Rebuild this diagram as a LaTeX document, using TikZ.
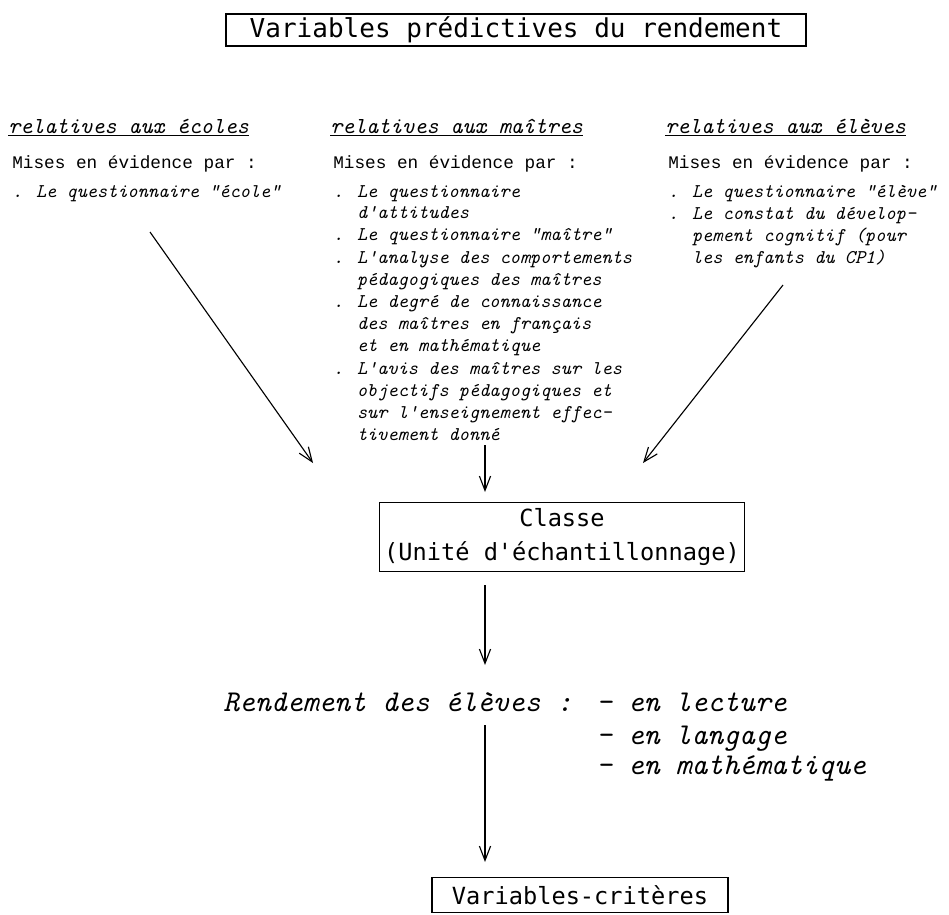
\documentclass[tikz,border=0pt]{standalone}
\usepackage{fontspec}
\newfontfamily\typew{Liberation Mono}
\newfontfamily\gothic{DejaVu Sans Mono}
\usetikzlibrary{positioning,calc,arrows.meta}
\tikzset{
  framebox/.style = {draw=black, line width=0.9pt, inner sep=0pt},
  gothbig/.style  = {font=\gothic\fontsize{18.5}{22}\selectfont},
  gothmid/.style  = {font=\gothic\fontsize{16.8}{23.5}\selectfont},
  colhdr/.style   = {font=\ttfamily\itshape\fontsize{16.3}{18}\selectfont, anchor=base west, inner sep=0pt},
  mono/.style     = {font=\typew\fontsize{12.6}{15.6}\selectfont, anchor=base west, inner sep=0pt},
  monoit/.style   = {font=\ttfamily\itshape\fontsize{13.8}{16}\selectfont, anchor=base west, inner sep=0pt},
  rendit/.style   = {font=\ttfamily\itshape\fontsize{21.5}{24}\selectfont, anchor=base west, inner sep=0pt},
  arrowto/.style  = {-{Straight Barb[length=3.6mm,width=2.8mm]}, line width=0.8pt},
}

\begin{document}
\begin{tikzpicture}[x=0.025cm,y=-0.025cm]
  \useasboundingbox (0,0) rectangle (949,915);

  % ----- title -----
  \node[framebox, gothbig, minimum width=14.5cm, minimum height=0.8cm] (title) at (516,30)
    {Variables prédictives du rendement};

  % ----- column headers -----
  \node[colhdr] (hdec) at (8,133)   {\underline{relatives aux écoles}};
  \node[colhdr] (hdma) at (330,133) {\underline{relatives aux maîtres}};
  \node[colhdr] (hdel) at (665,133) {\underline{relatives aux élèves}};
  \foreach \n/\x in {ec/12, ma/333, el/668} {
    \node[mono] (mis\n) at (\x,168) {Mises en évidence par :};
  }

  % ----- ecoles -----
  \node[monoit] (ec1) at (12,197) {. Le questionnaire "école"};

  % ----- maitres -----
  \foreach \t/\y [count=\i] in {%
    {. Le questionnaire}/197,
    {\phantom{. }d'attitudes}/218,
    {. Le questionnaire "maître"}/240,
    {. L'analyse des comportements}/263,
    {\phantom{. }pédagogiques des maîtres}/285,
    {. Le degré de connaissance}/307,
    {\phantom{. }des maîtres en français}/329,
    {\phantom{. }et en mathématique}/351,
    {. L'avis des maîtres sur les}/374,
    {\phantom{. }objectifs pédagogiques et}/396,
    {\phantom{. }sur l'enseignement effec-}/418,
    {\phantom{. }tivement donné}/440}
  {
    \node[monoit] (ma\i) at (333,\y) {\t};
  }

  % ----- eleves -----
  \foreach \t/\y [count=\i] in {%
    {. Le questionnaire "élève"}/197,
    {. Le constat du dévelop-}/219,
    {\phantom{. }pement cognitif (pour}/241,
    {\phantom{. }les enfants du CP1)}/263}
  {
    \node[monoit] (el\i) at (668,\y) {\t};
  }

  % ----- classe -----
  \node[framebox, gothmid, align=center, minimum width=9.125cm, minimum height=1.725cm] (cls) at (562,537)
    {Classe\\(Unité d\textquotesingle échantillonnage)};

  % ----- rendement -----
  \node[rendit] (rend) at (223,711) {Rendement des élèves :};
  \node[rendit] (rlect) at (596,711) {- en lecture};
  \node[rendit] (rlang) at (596,744) {- en langage};
  \node[rendit] (rmath) at (596,774) {- en mathématique};

  % ----- criteres -----
  \node[framebox, gothmid, minimum width=7.4cm, minimum height=0.875cm] (crit) at (580,895)
    {Variables-critères};

  % ----- arrows -----
  \coordinate (ecS) at (150,232);  \coordinate (ecE) at (313,463);
  \coordinate (maS) at (485,445);  \coordinate (maE) at (485,492);
  \coordinate (elS) at (783,285);  \coordinate (elE) at (643,463);
  \coordinate (clsS) at (485,585); \coordinate (rendN) at (485,665);
  \coordinate (rendS) at (485,725); \coordinate (critN) at (485,862);
  \draw[arrowto] (ecS) -- (ecE);
  \draw[arrowto] (maS) -- (maE);
  \draw[arrowto] (elS) -- (elE);
  \draw[arrowto] (clsS) -- (rendN);
  \draw[arrowto] (rendS) -- (critN);
\end{tikzpicture}
\end{document}
